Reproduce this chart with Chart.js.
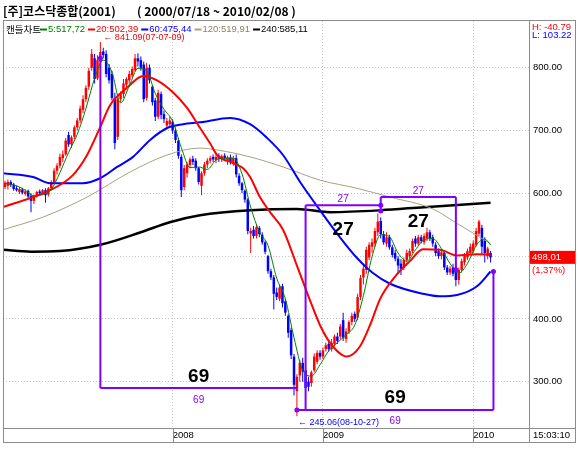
<!DOCTYPE html>
<html><head><meta charset="utf-8">
<script src="https://cdn.jsdelivr.net/npm/chart.js@4.4.1/dist/chart.umd.min.js"></script>
<style>html,body{margin:0;padding:0;background:#fff;}canvas{display:block;}</style>
</head><body>
<canvas id="c" width="578" height="449"></canvas>
<script>
// ---------------- DATA (weekly candles, index 0 = week of 2006-11-20) ----------------
const titleMain = '[주]코스닥종합(2001)';
const titleRange = '( 2000/07/18 ~ 2010/02/08 )';
const xTickWeeks = [58, 110, 162];
const xTickLabels = ['2008', '2009', '2010'];
const yTickValues = [300, 400, 500, 600, 700, 800];

const candleOpen = [610,612,618,614,608,602,606,599,604,596,588,596,603,600,605,598,608,618,636,644,
656,662,693,678,690,705,716,733,750,770,800,815,783,810,826,822,800,790,752,690,
750,758,773,780,788,796,815,812,805,752,800,770,748,722,758,726,708,710,714,700,
684,658,610,632,645,655,652,640,612,632,646,652,658,653,660,654,660,652,657,648,
656,628,616,604,590,536,542,532,545,534,522,500,476,466,442,432,452,428,405,382,
340,285,310,330,318,300,298,318,332,346,340,352,360,352,360,372,372,398,368,380,
395,408,402,435,466,478,498,515,520,538,556,535,520,530,514,505,496,488,482,494,
500,508,528,520,530,522,528,538,530,518,508,500,505,482,474,482,482,462,478,490,
498,505,508,518,536,545,525,500,505];
const candleHigh = [620,622,621,617,612,610,609,606,606,600,598,604,606,607,608,610,621,640,648,663,
668,688,698,692,708,720,740,756,772,800,830,822,820,841.09,832,828,806,795,760,755,
762,782,785,795,802,822,823,818,810,808,805,772,752,765,762,732,720,722,718,705,
688,662,645,650,657,660,656,642,635,650,656,660,662,662,664,662,664,660,662,660,
662,632,618,606,592,545,548,550,548,538,525,502,480,470,450,455,456,432,408,386,
344,312,335,338,325,308,318,345,350,350,355,362,364,368,375,378,392,410,385,398,
410,412,440,470,485,515,522,528,545,568,562,540,538,534,518,510,500,495,498,510,
512,528,532,534,534,536,545,542,534,522,512,510,508,486,484,488,490,482,496,505,
512,520,525,545,558,550,530,515,508];
const candleLow = [607,606,610,604,603,599,598,596,592,570,583,593,598,597,585,595,605,615,630,640,
650,660,674,672,686,700,712,728,745,765,795,775,780,805,815,785,775,748,670,685,
745,752,768,775,784,794,802,795,745,748,775,740,715,718,718,712,702,705,695,680,
655,594,605,625,640,645,636,614,597,628,640,648,650,648,650,650,652,645,646,644,
625,612,600,585,535,505,528,528,530,518,503,472,462,415,430,428,418,405,370,336,
278,245.06,300,300,268,285,292,315,328,335,336,348,348,348,356,360,368,365,362,376,
390,395,398,430,455,472,494,505,515,532,528,518,515,510,498,492,472,470,478,490,
496,505,515,516,520,518,524,524,515,500,496,495,478,470,470,468,452,455,474,485,
494,502,505,515,532,503,490,495,490];
const candleClose = [617,618,613,607,605,607,601,603,595,588,595,602,600,605,597,608,618,636,644,658,
662,684,678,689,705,716,735,750,768,795,822,782,812,825,820,790,780,752,680,750,
758,775,782,790,798,815,810,800,750,800,780,745,722,760,725,718,715,716,700,685,
660,605,640,646,654,650,640,618,632,646,652,656,654,658,655,659,656,657,650,656,
630,616,605,590,540,540,532,546,535,522,507,476,466,440,435,450,425,410,378,342,
295,308,330,316,290,292,315,340,346,340,350,358,352,362,372,365,388,370,380,395,
405,400,435,465,480,510,518,522,540,555,535,522,530,514,502,496,485,480,494,505,
508,524,520,530,524,532,538,528,520,505,500,506,482,474,480,472,462,478,492,500,
508,515,520,540,555,515,505,512,498.01];

// moving averages: [week index, value]
const maPeriods = [5, 20, 60, 120, 240];
const maLast = [517.72, 502.39, 475.44, 519.91, 585.11];
const ma5Points = [[0,616],[4,612],[7,605],[10,596],[13,598],[16,606],[19,633],[22,665],[25,694],[28,735],
[31,783],[34,812],[37,793],[40,744],[43,771],[46,799],[49,795],[52,759],[55,734],[58,715],[61,673],[64,641],
[67,642],[70,638],[73,653],[76,656],[79,656],[82,631],[85,578],[88,539],[91,517],[94,465],[97,432],[100,370],
[103,318],[106,309],[109,327],[112,349],[115,362],[118,375],[121,390],[124,437],[127,499],[130,534],[133,531],
[136,505],[139,492],[142,510],[145,526],[148,528],[151,512],[154,488],[157,473],[160,488],[163,517],[166,527],[168,517.72]];
const ma20Points = [[-0.7,578],[15.6,605],[23.5,629],[28.4,661],[32.9,705],[36.3,740],[42.2,768],[47.8,787],
[52.6,780],[58.1,761],[63,736],[67.5,704],[70.9,680],[73.4,661],[78.9,648],[82.4,640],[84.8,626],[88.2,594],
[91.7,570],[96.2,542],[101,485],[105.5,430],[109,390],[112.5,362],[118.3,340],[122.8,356],[126.3,390],
[129.8,432],[134.9,467],[140.1,492],[144.6,511],[150.5,510],[156.4,501],[163.3,503],[168,502.39]];
const ma60Points = [[-0.7,632],[9.7,626],[15.6,616],[27,616],[32.9,624],[38.8,642],[44.3,658],[50.2,685],
[56.1,704],[61.6,710],[67.5,713],[77.9,720],[84.8,710],[90.7,688],[96.2,661],[102.1,618],[109,573],
[115.9,530],[121.8,497],[127.3,473],[133.2,456],[144.6,440],[150.5,436],[156.4,438],[163.3,452],[168,475.44]];
const ma120Points = [[-0.7,542],[13.1,562],[28.4,594],[43.3,634],[56.1,661],[67.5,672],[73.4,669],[84.8,658],
[96.2,642],[109,621],[121.8,608],[133.2,594],[148.1,575],[156.4,552],[168,519.91]];
const ma240Points = [[-0.7,510],[9,507],[19,508],[33,518],[47,538],[57,554],[67.5,565],[85,573],[101,575],
[112.5,570],[130,573],[145,578],[168,585.11]];

// period-count annotations (week index, price)
const cycleSegments = [[33,815,33,290],[33,290,101,290],[101,255,169,255],[169,255,169,475.44],
[104,255,104,581],[104,581,130,581],[130,572,130,594],[130,594,156,594],[156,594,156,478]];
const cycleDots = [[33,815],[101,255],[169,475.44],[130,581],[130,572],[156,478]];
const cycleLabels = [[67,290,'69'],[135,255,'69'],[117,581,'27'],[143,594,'27']];
const peakLabel = [33, 841.09, '← 841.09(07-07-09)'];
const troughLabel = [101, 245.06, '← 245.06(08-10-27)'];
const hiLoText = ['H: -40.79', 'L: 103.22'];
const lastPrice = 498.01;
const lastChange = '(1,37%)';
const clockText = '15:03:10';

// ---------------- STYLE ----------------
const UP = '#ff0000', DOWN = '#0000ff';
const maColors = ['#008000', '#ff0000', '#0000ff', '#a8a080', '#000000'];
const maWidths = [1, 2, 2, 1, 2.5];
const PURPLE = '#8000ff';
const FRAME = '#8c8c8c';
const NUMFONT = "'Liberation Sans', Arial, sans-serif";
const KRFONT = "'Noto Sans CJK KR', sans-serif";
Chart.defaults.font.family = NUMFONT;

const isUp = i => candleClose[i] >= candleOpen[i];
const commaFix = v => v.toFixed(2).replace('.', ',');

function seg(ctx, x1, y1, x2, y2) { ctx.beginPath(); ctx.moveTo(x1, y1); ctx.lineTo(x2, y2); ctx.stroke(); }

const decor = {
  id: 'decor',
  afterDatasetsDraw(chart) {
    const { ctx } = chart; const xs = chart.scales.x, ys = chart.scales.y;
    const px = v => xs.getPixelForValue(v), py = v => ys.getPixelForValue(v);
    ctx.save();
    ctx.strokeStyle = PURPLE; ctx.lineWidth = 2;
    cycleSegments.forEach(([a, b, c, d]) => seg(ctx, px(a), py(b), px(c), py(d)));
    ctx.fillStyle = PURPLE;
    cycleDots.forEach(([a, b]) => { ctx.beginPath(); ctx.arc(px(a), py(b), 2.5, 0, Math.PI * 2); ctx.fill(); });
    ctx.textAlign = 'center'; ctx.textBaseline = 'middle';
    const offs = [[-11, 12], [-12, 11], [25, -6], [25, -6]];
    cycleLabels.forEach(([a, b, t], k) => {
      ctx.font = 'bold 19px ' + NUMFONT; ctx.fillStyle = '#000';
      ctx.fillText(t, px(a), py(b) + offs[k][0]);
      ctx.font = '10px ' + NUMFONT; ctx.fillStyle = PURPLE;
      ctx.fillText(t, px(a), py(b) + offs[k][1]);
    });
    ctx.textAlign = 'left'; ctx.font = '9px ' + NUMFONT;
    ctx.fillStyle = '#ff0000'; ctx.fillText(peakLabel[2], px(peakLabel[0]) + 3, py(peakLabel[1]) - 4);
    ctx.fillStyle = '#0000ff'; ctx.fillText(troughLabel[2], px(troughLabel[0]) + 1, py(troughLabel[1]) + 6);
    ctx.restore();
  },
  afterDraw(chart) {
    const { ctx, chartArea: ca } = chart; const xs = chart.scales.x, ys = chart.scales.y;
    ctx.save();
    ctx.strokeStyle = FRAME; ctx.lineWidth = 1;
    ctx.strokeRect(3.5, 20.5, 572, 422);
    seg(ctx, ca.right + 0.5, 20, ca.right + 0.5, 443);
    seg(ctx, 3, ca.bottom + 0.5, 576, ca.bottom + 0.5);
    xTickWeeks.forEach(w => { const x = Math.round(xs.getPixelForValue(w)) + 0.5; seg(ctx, x, ca.bottom, x, 443); });
    // title
    ctx.textBaseline = 'middle'; ctx.textAlign = 'left'; ctx.fillStyle = '#000';
    ctx.font = 'bold 12px ' + KRFONT;
    ctx.fillText(titleMain, 3, 11);
    ctx.fillText(titleRange, 137, 11);
    // legend
    ctx.font = '9.5px ' + KRFONT; ctx.fillStyle = '#000';
    ctx.fillText('캔들차트', 6, 29);
    let lx = 40;
    ctx.font = '9.5px ' + NUMFONT;
    maPeriods.forEach((p, k) => {
      ctx.strokeStyle = maColors[k]; ctx.lineWidth = 2; seg(ctx, lx, 29.5, lx + 7, 29.5);
      const t = p + ':' + commaFix(maLast[k]);
      ctx.fillStyle = k === 3 ? '#8c8460' : maColors[k];
      ctx.fillText(t, lx + 8, 29);
      lx += 8 + ctx.measureText(t).width + 3;
    });
    // H / L box
    ctx.font = '9.5px ' + NUMFONT;
    ctx.fillStyle = '#ff0000'; ctx.fillText(hiLoText[0], ca.right + 3, 27);
    ctx.fillStyle = '#0000ff'; ctx.fillText(hiLoText[1], ca.right + 3, 35);
    // last price badge
    const yb = ys.getPixelForValue(lastPrice);
    ctx.fillStyle = '#ff0000'; ctx.fillRect(ca.right + 1, yb - 6.5, 45, 13);
    ctx.fillStyle = '#fff'; ctx.fillText(commaFix(lastPrice), ca.right + 3, yb);
    ctx.fillStyle = '#ff0000'; ctx.fillText(lastChange, ca.right + 3, yb + 13);
    ctx.fillStyle = '#000'; ctx.fillText(clockText, ca.right + 4, 435.5);
    ctx.restore();
  }
};

const toXY = pts => pts.map(([x, y]) => ({ x, y }));
const maSets = [ma5Points, ma20Points, ma60Points, ma120Points, ma240Points].map((pts, k) => ({
  type: 'line', data: toXY(pts), borderColor: maColors[k], borderWidth: maWidths[k],
  pointRadius: 0, cubicInterpolationMode: 'monotone', fill: false, order: k
}));

new Chart(document.getElementById('c'), {
  type: 'bar',
  data: {
    datasets: [
      ...maSets,
      { type: 'bar', data: candleLow.map((l, i) => ({ x: i, y: [l, candleHigh[i]] })),
        backgroundColor: c => isUp(c.dataIndex) ? UP : DOWN, barThickness: 1, grouped: false,
        borderWidth: 0, inflateAmount: 0, order: 20 },
      { type: 'bar', data: candleOpen.map((o, i) => ({ x: i, y: [o, candleClose[i]] })),
        backgroundColor: c => isUp(c.dataIndex) ? UP : DOWN, barThickness: 2.5, grouped: false,
        borderWidth: 0, inflateAmount: 0, minBarLength: 1, order: 19 }
    ]
  },
  options: {
    responsive: false, animation: false, devicePixelRatio: 1,
    layout: { padding: { left: 3, top: 21, right: 3, bottom: 7 } },
    plugins: { legend: { display: false }, tooltip: { enabled: false } },
    scales: {
      x: {
        type: 'linear', min: -0.69, max: 181.3, offset: false, position: 'bottom',
        grid: { color: '#c4c4c4', drawTicks: false, offset: false },
        border: { display: false, dash: [1, 2] },
        afterBuildTicks: a => { a.ticks = xTickWeeks.map(v => ({ value: v })); },
        afterFit: a => { a.height = 14; },
        ticks: { autoSkip: false, maxRotation: 0, align: 'start', padding: 2, color: '#000',
          font: { size: 9.5 }, callback: v => xTickLabels[xTickWeeks.indexOf(v)] }
      },
      y: {
        type: 'linear', position: 'right', min: 226.3, max: 874.4,
        grid: { color: '#c4c4c4', drawTicks: false },
        border: { display: false, dash: [1, 2] },
        afterBuildTicks: a => { a.ticks = yTickValues.map(v => ({ value: v })); },
        afterFit: a => { a.width = 46; },
        ticks: { padding: 4, color: '#000', font: { size: 9.5 }, callback: v => Number(v).toFixed(2) }
      }
    }
  },
  plugins: [decor]
});
</script>
</body></html>
